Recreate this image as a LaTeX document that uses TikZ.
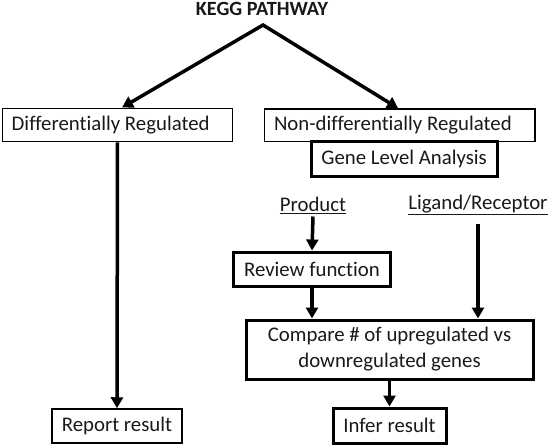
\documentclass[tikz,border=0pt]{standalone}
\usepackage{fontspec}
\setmainfont{Carlito}[Ligatures=NoCommon]
\usetikzlibrary{arrows.meta,calc}
\begin{document}
\begin{tikzpicture}[x=1pt,y=-1pt,
  txt/.style={font=\fontsize{20.8}{26}\selectfont, text=black!90},
  thinbox/.style={txt, draw, line width=1.5pt, inner ysep=0pt},
  thickbox/.style={txt, draw, line width=3pt, inner sep=0pt, align=center},
  arr/.style={line width=3.5pt, -{Triangle[width=12pt,length=11pt]}},
]
\useasboundingbox (0,0) rectangle (550,448);

\node[font=\bfseries\fontsize{20.2}{22}\selectfont, text=black!90] (kegg) at (262,9) {KEGG PATHWAY};
\coordinate (apex) at (263,25);

\node[thinbox, inner xsep=9pt, minimum height=33.4pt] (diff) at (117.5,125) {\makebox[211.6pt][l]{Differentially Regulated}};
\node[thinbox, inner xsep=9.7pt, minimum height=32.7pt] (nondiff) at (399.65,125.35) {\makebox[251.3pt][l]{Non-differentially Regulated}};
\node[thickbox, minimum width=186.3pt, minimum height=35pt, fill=white] (gene) at (404.15,159.2) {Gene Level Analysis};

\node[txt, inner sep=3pt] (prod) at (313,205) {\underline{Product}};
\node[txt, inner sep=3pt] (lig) at (478,205) {\underline{Ligand/Receptor}};

\node[thickbox, minimum width=157pt, minimum height=34.5pt] (review) at (312,269.25) {Review function};
\node[thickbox, minimum width=287pt, minimum height=59pt] (cmp) at (389.5,349.5) {Compare \# of upregulated vs\\downregulated genes};

\node[thinbox, inner xsep=0pt, minimum width=130pt, minimum height=34pt] (report) at (117,426) {Report result};
\node[thickbox, minimum width=113pt, minimum height=35pt] (infer) at (389.5,425.5) {Infer result};

% connectors
\draw[line width=3.5pt, {Triangle[width=12pt,length=11pt]}-{Triangle[width=12pt,length=11pt]}]
  ($(diff.north)+(4.5,0)$) -- (apex) -- ($(nondiff.north)+(-1.5,0)$);
\draw[arr] (diff.south) -- (report.north);
\draw[arr] (prod.south) -- (review.north);
\draw[arr, shorten <=6pt] (lig.south) -- (lig.south |- cmp.north);
\draw[arr] (review.south) -- (review.south |- cmp.north);
\draw[arr] (cmp.south) -- (infer.north);
\end{tikzpicture}
\end{document}
